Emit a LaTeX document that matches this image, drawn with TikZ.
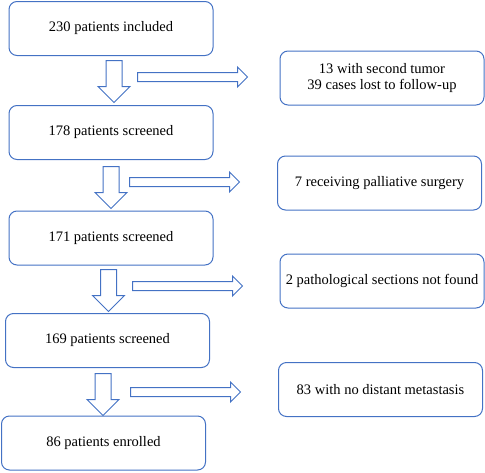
\documentclass[tikz,border=0pt]{standalone}
\usepackage{fontspec}
\setmainfont{Liberation Serif}
\usetikzlibrary{shapes.arrows}
\definecolor{flowblue}{RGB}{68,114,196}
\begin{document}
\begin{tikzpicture}[x=1pt,y=-1pt,
    box/.style={draw=flowblue,line width=1pt,rounded corners=8pt,minimum width=204pt,minimum height=54pt,
      align=center,inner sep=0pt,font=\fontsize{14.5}{16}\selectfont},
    downarr/.style={single arrow,draw=flowblue,line width=1pt,shape border rotate=270,anchor=tail,
      minimum height=42pt,inner sep=7.5pt,single arrow head extend=8pt},
    sidearr/.style={single arrow,draw=flowblue,line width=1pt,anchor=tail,
      minimum height=110pt,inner sep=4pt,single arrow head extend=5.5pt}]
  \useasboundingbox (0,0) rectangle (485,472);
  % main column
  \node[box] (n230) at (111,28.5) {230 patients included};
  \node[box] (n178) at (111,132.5) {178 patients screened};
  \node[box] (n171) at (111,238) {171 patients screened};
  \node[box] (n169) at (107.5,340.5) {169 patients screened};
  \node[box] (n86) at (103.5,443) {86 patients enrolled};
  % excluded
  \node[box] (x1) at (382,78) {13 with second tumor\\39 cases lost to follow-up};
  \node[box] (x2) at (379.5,183) {7 receiving palliative surgery};
  \node[box] (x3) at (382,281) {2 pathological sections not found};
  \node[box] (x4) at (380.5,389.5) {83 with no distant metastasis};
  % block arrows
  \foreach \nm/\x/\y in {d1/114/60,d2/111/166,d3/108.5/269,d4/103/373}
    \node[downarr] (\nm) at (\x,\y) {};
  \foreach \nm/\x/\y in {s1/137/77,s2/129/182,s3/132/286,s4/130/392}
    \node[sidearr] (\nm) at (\x,\y) {};
\end{tikzpicture}
\end{document}
